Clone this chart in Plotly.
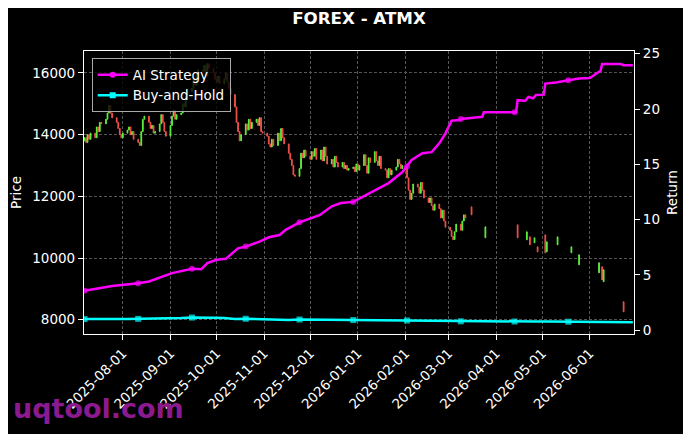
import pandas as pd
import plotly.graph_objects as go

# ---------------- data ----------------
base_date = pd.Timestamp("2025-07-07")

# daily closes (business days from 2025-07-07)
candle_close = [
    13900, 13750, 14000, 13850, 14050,
    13900, 14250, 14100, 14400, 14350,
    14500, 14700, 14950, 14700, 14550,
    14400, 14200, 14000, 13900, 14050,
    14150, 14250, 14000, 14100, 13850,
    13750, 13650, 14100, 14500, 14600,
    14400, 14200, 14300, 14050, 14100,
    14350, 14650, 14400, 14100, 13950,
    14300, 14600, 14800, 14500, 14650,
    14700, 15000, 14900, 15250, 15400,
    15500, 15800, 15600, 15950, 16100,
    16050, 16250, 15900, 16300, 16150,
    16000, 15800, 15700, 15900, 15650,
    15800, 16000, 15700, 15500, 15300,
    14900, 14400, 14100, 13800, 14000,
    14350, 14150, 14500, 14200, 14400,
    14500, 14300, 14550, 14100, 14050,
    13950, 13700, 13600, 13850, 13650,
    14050, 13800, 14200, 13900, 13700,
    13400, 13200, 13000, 12700, 12650,
    12900, 13400, 13250, 13500, 13300,
    13200, 13450, 13300, 13550, 13200,
    13500, 13150, 13600, 13300, 13050,
    13200, 12950, 13300, 13100, 12950,
    13100, 12900, 13000, 12850, 12900,
    12950, 12800, 13050, 12850, 13000,
    13350, 13000, 12750, 13250, 13100,
    13450, 13150, 13000, 13300, 12900,
    12850, 12600, 12900, 12700, 12850,
    12950, 13200, 13050, 12900, 13000,
    12600, 12200, 11900, 12100, 12400,
    12300, 12100, 12450, 12200, 11950,
    11800, 11950, 11700, 11550, 11750,
    11600, 11300, 11550, 11200, 11000,
    10900, 10700, 10600, 10850, 11100,
    10900, 11200, 11400, 11300,
]
first_open = 13800

# sparse candles later in the period (days after base_date)
sparse_day = [252, 261, 282, 288, 290, 293, 295, 300, 301, 308, 317, 322, 335, 337, 338, 351]
sparse_open = [11660, 10656, 11077, 10591, 10688, 10494, 10364, 10753, 10203, 10429, 10170, 9781, 9522, 9717, 9231, 8583]
sparse_close = [11400, 11012, 10656, 10850, 10429, 10656, 10203, 10170, 10526, 10688, 10364, 10105, 9846, 9296, 9620, 8259]

# AI strategy cumulative return
ai_day = [0, 18, 35, 42, 57, 70, 76, 80, 86, 92, 100, 105, 114, 120, 127, 131, 140, 153, 161, 167,
          175, 183, 190, 198, 207, 210, 213, 220, 226, 231, 235, 239, 244, 245, 259, 260, 280, 281, 282, 287,
          289, 292, 294, 299, 300, 307, 315, 322, 329, 336, 337, 349, 351, 357]
ai_val = [3.57, 4.0, 4.25, 4.4, 5.16, 5.55, 5.5, 6.06, 6.36, 6.45, 7.4, 7.56, 8.0, 8.4, 8.6, 9.07, 9.75, 10.4, 11.2, 11.5,
          11.6, 12.2, 12.7, 13.3, 14.3, 14.8, 15.4, 16.0, 16.1, 16.9, 17.8, 18.95, 19.0, 19.1, 19.3, 19.7, 19.7, 19.7, 20.8, 20.75,
          21.1, 20.97, 21.27, 21.3, 22.3, 22.4, 22.6, 22.77, 22.8, 23.46, 24.07, 24.07, 23.97, 23.97]

# Buy-and-hold return, weekly
bh_val = [1.00, 1.02, 1.05, 1.01, 1.00, 1.02, 1.02, 1.01, 1.04, 1.09,
          1.14, 1.16, 1.13, 1.10, 1.00, 1.03, 1.01, 0.98, 0.99, 0.91,
          0.96, 0.95, 0.94, 0.93, 0.92, 0.91, 0.91, 0.90, 0.89, 0.90,
          0.87, 0.85, 0.83, 0.81, 0.79, 0.80, 0.81, 0.79, 0.79, 0.78,
          0.78, 0.78, 0.77, 0.77, 0.77, 0.76, 0.76, 0.75, 0.75, 0.74,
          0.72, 0.71]

marker_every_days = 35
marker_last_day = 315

# ---------------- build ----------------
c_dates = list(pd.bdate_range(base_date, periods=len(candle_close)))
c_open = [first_open] + candle_close[:-1]
s_dates = [base_date + pd.Timedelta(days=d) for d in sparse_day]

all_dates = c_dates + s_dates
all_open = c_open + sparse_open
all_close = candle_close + sparse_close
all_high = [max(o, c) for o, c in zip(all_open, all_close)]
all_low = [min(o, c) for o, c in zip(all_open, all_close)]

ai_dates = [base_date + pd.Timedelta(days=d) for d in ai_day]
bh_day = [7 * i for i in range(len(bh_val))]
bh_dates = [base_date + pd.Timedelta(days=d) for d in bh_day]


def msizes(days, size):
    return [size if (d % marker_every_days == 0 and d <= marker_last_day) else 0 for d in days]


FONT = "DejaVu Sans"
MAGENTA = "#ff00ff"
CYAN = "#00ffff"
FS = 13.5

fig = go.Figure()
fig.add_trace(go.Candlestick(
    x=all_dates, open=all_open, high=all_high, low=all_low, close=all_close,
    increasing=dict(line=dict(color="#5cf03c", width=1), fillcolor="#5cf03c"),
    decreasing=dict(line=dict(color="#f0504a", width=1), fillcolor="#f0504a"),
    whiskerwidth=0, showlegend=False, hoverinfo="skip",
))
fig.add_trace(go.Scatter(
    x=ai_dates, y=ai_val, yaxis="y2", mode="lines+markers",
    line=dict(color=MAGENTA, width=2.5),
    marker=dict(color=MAGENTA, size=msizes(ai_day, 6), symbol="circle", line=dict(width=0)),
    showlegend=False,
))
fig.add_trace(go.Scatter(
    x=bh_dates, y=bh_val, yaxis="y2", mode="lines+markers",
    line=dict(color=CYAN, width=2.5),
    marker=dict(color=CYAN, size=msizes(bh_day, 6), symbol="square", line=dict(width=0)),
    showlegend=False,
))
# legend entries
fig.add_trace(go.Scatter(x=[None], y=[None], yaxis="y2", mode="lines+markers", name="AI Strategy",
                         line=dict(color=MAGENTA, width=2.5), marker=dict(color=MAGENTA, size=6, symbol="circle")))
fig.add_trace(go.Scatter(x=[None], y=[None], yaxis="y2", mode="lines+markers", name="Buy-and-Hold",
                         line=dict(color=CYAN, width=2.5), marker=dict(color=CYAN, size=6, symbol="square")))

axis_common = dict(
    ticks="outside", ticklen=5, tickwidth=1, tickcolor="white",
    showline=True, linecolor="white", linewidth=1.2,
    tickfont=dict(family=FONT, size=FS, color="white"),
    zeroline=False, automargin=False,
)

# the page body adds an 8px offset; margins compensate for it
fig.update_layout(
    width=691, height=434,
    paper_bgcolor="black", plot_bgcolor="black",
    margin=dict(l=76, r=65, t=43, b=108, pad=0, autoexpand=False),
    font=dict(family=FONT, color="white", size=FS),
    title=dict(text="<b>FOREX - ATMX</b>", x=0.5, xref="paper", xanchor="center",
               y=1 - 10 / 434, yref="container", yanchor="middle",
               font=dict(family=FONT, size=16.7, color="white")),
    xaxis=dict(type="date", range=["2025-07-06 17:00", "2026-06-29 18:00"],
               tickformat="%Y-%m-%d", dtick="M1", tick0="2025-08-01", tickangle=-45,
               mirror=True, showgrid=True, gridcolor="#555555", gridwidth=0.6, griddash="3px,2px",
               rangeslider=dict(visible=False), **axis_common),
    yaxis=dict(range=[7537, 16713], dtick=2000, tick0=8000, tickformat="d",
               title=dict(text="Price", font=dict(family=FONT, size=FS, color="white"), standoff=8),
               mirror=True, showgrid=True, gridcolor="#555555", gridwidth=0.6, griddash="3px,2px",
               **axis_common),
    yaxis2=dict(range=[-0.35, 25.25], dtick=5, tick0=0, overlaying="y", side="right",
                title=dict(text="Return", font=dict(family=FONT, size=FS, color="white"), standoff=8),
                showgrid=False, **axis_common),
    legend=dict(x=0.014, y=0.974, xanchor="left", yanchor="top",
                bgcolor="rgba(0,0,0,0.8)", bordercolor="#aaaaaa", borderwidth=1,
                font=dict(family=FONT, size=FS, color="white"),
                itemwidth=30, tracegroupgap=0),
    annotations=[dict(text="<b>uqtool.com</b>", xref="paper", yref="paper",
                      x=-0.132, y=-0.264, xanchor="left", yanchor="middle", showarrow=False,
                      font=dict(family=FONT, size=27, color="#8b1a8f"))],
)

fig.write_html("out.html")
